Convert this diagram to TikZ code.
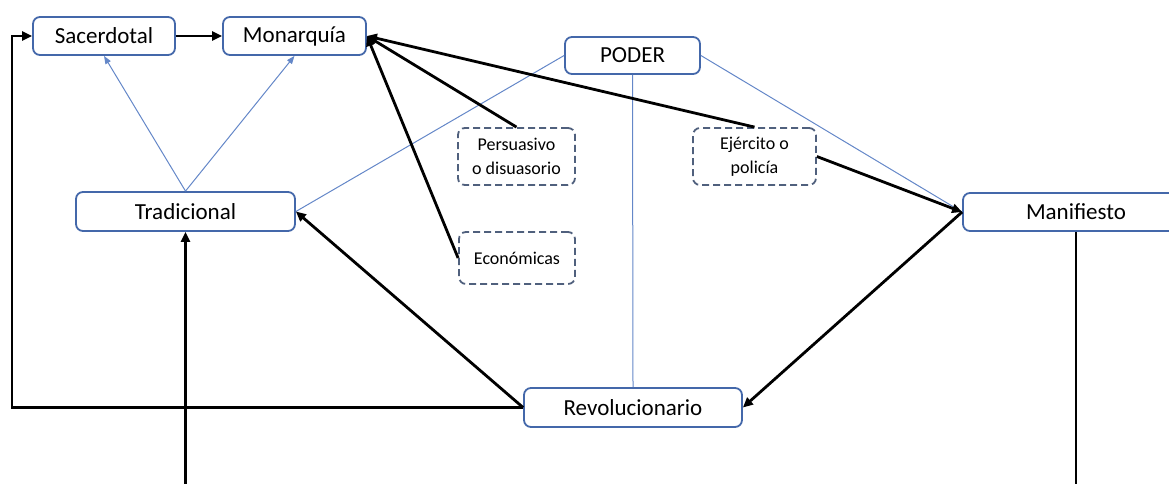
\documentclass[tikz,border=0pt]{standalone}
\usepackage{fontspec}
\setmainfont{Carlito}
\usetikzlibrary{arrows.meta}

\definecolor{boxblue}{RGB}{68,104,170}
\definecolor{dashblue}{RGB}{80,96,125}
\definecolor{linkblue}{RGB}{100,135,200}

\tikzset{
	box/.style={draw=boxblue, line width=1.8pt, rounded corners=7pt, inner sep=0pt, align=center,
		font=\fontsize{23}{27}\selectfont},
	dashbox/.style={box, draw=dashblue, dash pattern=on 7pt off 4pt, font=\fontsize{18}{24}\selectfont},
	strong/.style={line width=2.8pt, -{Triangle[length=10pt, width=9pt]}},
	weak/.style={draw=linkblue, line width=1pt},
}

\begin{document}
\begin{tikzpicture}[x=1pt, y=-1pt]
	\useasboundingbox (0,0) rectangle (1169,484);

	\node [box, minimum width=142pt, minimum height=38pt] (sacerdotal) at (104, 36) {Sacerdotal};
	\node [box, minimum width=143pt, minimum height=38pt] (monarquia) at (294.5, 36) {Monarquía};
	\node [box, minimum width=135pt, minimum height=37pt] (poder) at (632.5, 55.5) {PODER};
	\node [box, minimum width=219pt, minimum height=39pt] (tradicional) at (185.5, 211.5) {Tradicional};
	\node [box, minimum width=226pt, minimum height=38pt] (manifiesto) at (1076, 212) {Manifiesto};
	\node [box, minimum width=218pt, minimum height=39pt] (revolucionario) at (633, 407.5) {Revolucionario};

	\node [dashbox, minimum width=117pt, minimum height=57pt] (persuasivo) at (516.5, 156.5) {Persuasivo\\o disuasorio};
	\node [dashbox, minimum width=116pt, minimum height=52pt] (economicas) at (517, 258) {Económicas};
	\node [dashbox, minimum width=123pt, minimum height=57pt] (ejercito) at (754.5, 156.5) {Ejército o\\policía};

	\coordinate (corner) at (12, 36);
	\coordinate (tradin) at (185.5, 484);
	\coordinate (manout) at (1076, 484);

	% thin links from PODER and Tradicional
	\draw [weak] (poder.west) -- (tradicional.east);
	\draw [weak] (poder.east) -- (manifiesto.west);
	\draw [weak] (poder.south) -- (revolucionario.north);
	\draw [weak, -{Triangle[length=8pt, width=6pt]}] (tradicional.north) -- (sacerdotal.south);
	\draw [weak, -{Triangle[length=8pt, width=6pt]}] (tradicional.north) -- (monarquia.south);

	% heavy arrows
	\draw [strong] (sacerdotal) -- (monarquia);
	\draw [strong] (persuasivo.north) -- (monarquia.east);
	\draw [strong] (economicas.west) -- (monarquia.east);
	\draw [strong] (ejercito.north) -- (monarquia.east);
	\draw [strong] (ejercito.east) -- (manifiesto.west);
	\draw [strong] (manifiesto.west) -- (revolucionario.east);
	\draw [strong] (revolucionario.west) -- (tradicional.east);
	\draw [strong] (revolucionario.west) -| (corner) -- (sacerdotal.west);
	\draw [strong] (tradin) -- (tradicional.south);
	\draw [line width=2.8pt] (manifiesto.south) -- (manout);

\end{tikzpicture}
\end{document}
